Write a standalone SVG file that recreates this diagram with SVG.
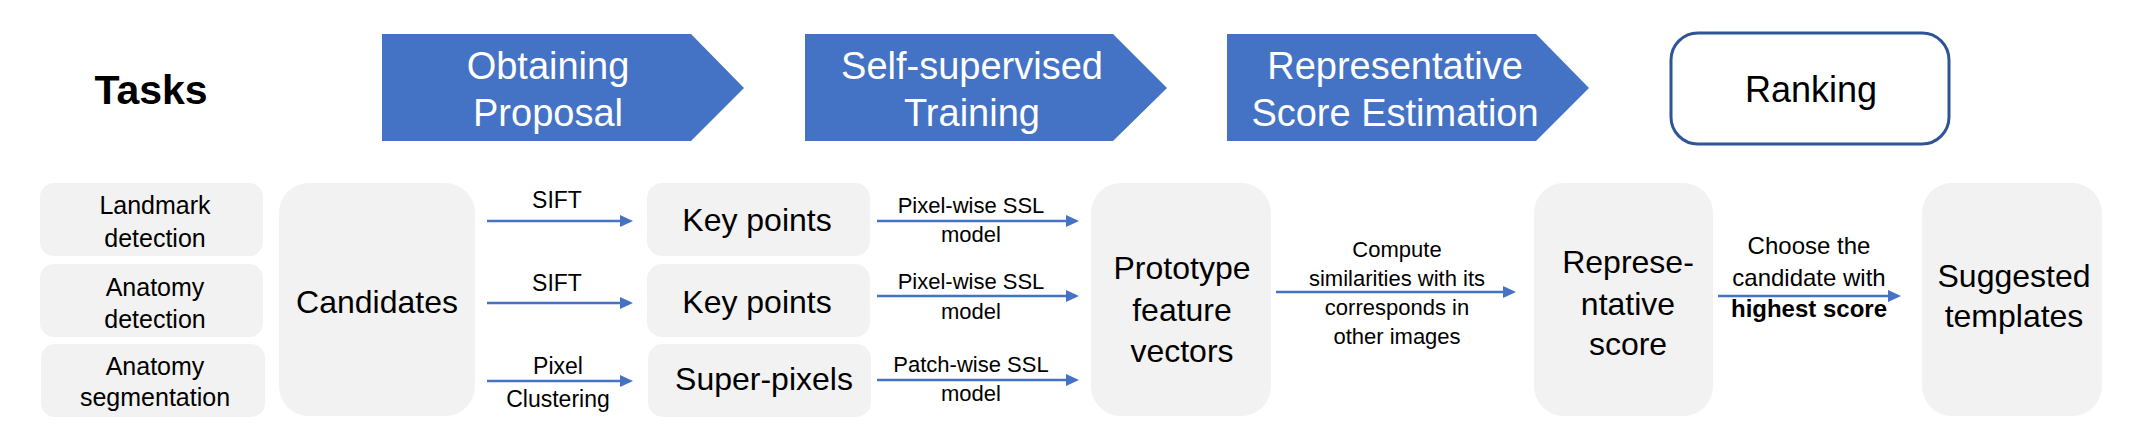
<svg xmlns="http://www.w3.org/2000/svg" width="2132" height="440" viewBox="0 0 2132 440">
<style>
text{font-family:"Liberation Sans",Arial,sans-serif;text-anchor:middle;fill:#000}
.phase{fill:#4472C4}
.pt{fill:#fff;font-size:38px}
.box{fill:#F2F2F2}
.t25{font-size:25px}
.t32{font-size:32px}
.lab{font-size:23px}
.lab22{font-size:22px}
.conn{stroke:#4472C4;stroke-width:2.6;fill:none}
</style>
<defs>
<marker id="ah" viewBox="0 0 13 12" refX="0" refY="6" markerWidth="13" markerHeight="12" markerUnits="userSpaceOnUse" orient="auto">
<path d="M0,0 L13,6 L0,12 Z" fill="#4472C4"/>
</marker>
</defs>
<rect width="2132" height="440" fill="#fff"/>
<g id="tasks-title"><text x="151" y="104" style="font-size:41px;font-weight:bold">Tasks</text></g>
<g id="phase-obtaining"><path class="phase" d="M382,34 H691 L744,88 L691,141 H382 Z"/><text class="pt" x="548" y="79">Obtaining</text><text class="pt" x="548" y="126">Proposal</text></g>
<g id="phase-ssl"><path class="phase" d="M805,34 H1113 L1167,88 L1113,141 H805 Z"/><text class="pt" x="972" y="79">Self-supervised</text><text class="pt" x="972" y="126">Training</text></g>
<g id="phase-score"><path class="phase" d="M1227,34 H1536 L1589,88 L1536,141 H1227 Z"/><text class="pt" x="1395" y="79">Representative</text><text class="pt" x="1395" y="126">Score Estimation</text></g>
<g id="phase-ranking"><rect x="1671" y="33" width="278" height="111" rx="27" fill="#fff" stroke="#2F5597" stroke-width="3"/><text x="1811" y="102" style="font-size:36px">Ranking</text></g>
<g id="task-landmark"><rect class="box" x="40" y="183" width="223" height="73" rx="14"/><text class="t25" x="155" y="214">Landmark</text><text class="t25" x="155" y="247">detection</text></g>
<g id="task-anat-det"><rect class="box" x="40" y="264" width="223" height="73" rx="14"/><text class="t25" x="155" y="296">Anatomy</text><text class="t25" x="155" y="328">detection</text></g>
<g id="task-anat-seg"><rect class="box" x="41" y="344" width="224" height="73" rx="14"/><text class="t25" x="155" y="375">Anatomy</text><text class="t25" x="155" y="406">segmentation</text></g>
<g id="candidates"><rect class="box" x="279" y="183" width="196" height="233" rx="30"/><text class="t32" x="377" y="313">Candidates</text></g>
<g id="keypoints1"><rect class="box" x="647" y="183" width="223" height="73" rx="15"/><text class="t32" x="757" y="231">Key points</text></g>
<g id="keypoints2"><rect class="box" x="647" y="264" width="223" height="73" rx="15"/><text class="t32" x="757" y="313">Key points</text></g>
<g id="superpixels"><rect class="box" x="648" y="344" width="223" height="73" rx="15"/><text class="t32" x="764" y="390">Super-pixels</text></g>
<g id="prototype"><rect class="box" x="1091" y="183" width="180" height="233" rx="30"/><text class="t32" x="1182" y="279">Prototype</text><text class="t32" x="1182" y="321">feature</text><text class="t32" x="1182" y="362">vectors</text></g>
<g id="repscore"><rect class="box" x="1534" y="183" width="179" height="233" rx="30"/><text class="t32" x="1628" y="273">Represe-</text><text class="t32" x="1628" y="315">ntative</text><text class="t32" x="1628" y="355">score</text></g>
<g id="suggested"><rect class="box" x="1922" y="183" width="180" height="233" rx="30"/><text class="t32" x="2014" y="287">Suggested</text><text class="t32" x="2014" y="327">templates</text></g>
<g id="connectors">
<line class="conn" x1="487" y1="221" x2="620" y2="221" marker-end="url(#ah)"/>
<line class="conn" x1="487" y1="303" x2="620" y2="303" marker-end="url(#ah)"/>
<line class="conn" x1="487" y1="381" x2="620" y2="381" marker-end="url(#ah)"/>
<line class="conn" x1="877" y1="221" x2="1066" y2="221" marker-end="url(#ah)"/>
<line class="conn" x1="877" y1="296" x2="1066" y2="296" marker-end="url(#ah)"/>
<line class="conn" x1="877" y1="380" x2="1066" y2="380" marker-end="url(#ah)"/>
<line class="conn" x1="1276" y1="292" x2="1503" y2="292" marker-end="url(#ah)"/>
<line class="conn" x1="1718" y1="296" x2="1888" y2="296" marker-end="url(#ah)"/>
<text class="lab" x="557" y="208">SIFT</text>
<text class="lab" x="557" y="291">SIFT</text>
<text class="lab" x="558" y="374">Pixel</text>
<text class="lab" x="558" y="407">Clustering</text>
<text class="lab22" x="971" y="213">Pixel-wise SSL</text>
<text class="lab22" x="971" y="242">model</text>
<text class="lab22" x="971" y="289">Pixel-wise SSL</text>
<text class="lab22" x="971" y="319">model</text>
<text class="lab22" x="971" y="372">Patch-wise SSL</text>
<text class="lab22" x="971" y="401">model</text>
<text class="lab22" x="1397" y="257">Compute</text>
<text class="lab22" x="1397" y="286">similarities with its</text>
<text class="lab22" x="1397" y="315">corresponds in</text>
<text class="lab22" x="1397" y="344">other images</text>
<text class="lab" x="1809" y="254" style="font-size:24px">Choose the</text>
<text class="lab" x="1809" y="286" style="font-size:24px">candidate with</text>
<text class="lab" x="1809" y="317" style="font-size:24px;font-weight:bold">highest score</text>
</g>
</svg>
